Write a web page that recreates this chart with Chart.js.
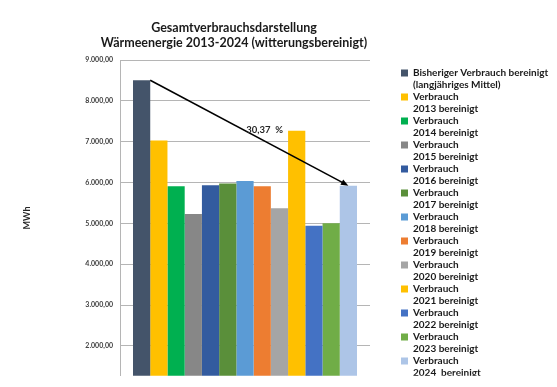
<!DOCTYPE html>
<html lang="de">
<head>
<meta charset="utf-8">
<title>Gesamtverbrauchsdarstellung Wärmeenergie</title>
<script src="https://cdn.jsdelivr.net/npm/chart.js@4/dist/chart.umd.min.js"></script>
<style>
    html, body { margin: 0; padding: 0; background: #fff; }
    #wrap { width: 557px; height: 387px; position: relative; }
</style>
</head>
<body>
<div id="wrap"><canvas id="waermeChart"></canvas></div>
<script>
// Daten (MWh)
const categories = [""];
const seriesLabels = [
    ["Bisheriger Verbrauch bereinigt", "(langjähriges Mittel)"],
    ["Verbrauch", "2013 bereinigt"],
    ["Verbrauch", "2014 bereinigt"],
    ["Verbrauch", "2015 bereinigt"],
    ["Verbrauch", "2016 bereinigt"],
    ["Verbrauch", "2017 bereinigt"],
    ["Verbrauch", "2018 bereinigt"],
    ["Verbrauch", "2019 bereinigt"],
    ["Verbrauch", "2020 bereinigt"],
    ["Verbrauch", "2021 bereinigt"],
    ["Verbrauch", "2022 bereinigt"],
    ["Verbrauch", "2023 bereinigt"],
    ["Verbrauch", "2024  bereinigt"]
];
const seriesValues = [8505, 7030, 5910, 5230, 5930, 5975, 6040, 5910, 5370, 7265, 4940, 5000, 5922];
const seriesColors = [
    "#44546A", "#FFC000", "#00B050", "#878787", "#335B9F", "#5A8F3A", "#5B9BD5",
    "#ED7D31", "#A5A5A5", "#FFC000", "#4472C4", "#70AD47", "#ADC5E7"
];
const yTicks = [2000, 3000, 4000, 5000, 6000, 7000, 8000, 9000];
const titleLines = ["Gesamtverbrauchsdarstellung", "Wärmeenergie 2013-2024 (witterungsbereinigt)"];
const yTitle = "MWh";
const arrowLabel = "30,37  %";

// Achsenbereich (unterer Teil ist im Bild abgeschnitten)
const yMin = 1267;
const yMax = 9000;
const legendLeft = 401;

const FONT = "Lato";

// Titel (zentriert über dem Diagramm)
const titlePlugin = {
    id: "titleText",
    afterDraw(chart) {
        const ctx = chart.ctx;
        ctx.save();
        ctx.font = "bold 12.5px " + FONT;
        ctx.fillStyle = "#1a1a1a";
        ctx.textAlign = "center";
        ctx.textBaseline = "middle";
        titleLines.forEach((line, i) => {
            ctx.fillText(line, 234, 28 + i * 15);
        });
        ctx.restore();
    }
};

// Pfeil vom Mittelwert zum letzten Jahr
const arrowPlugin = {
    id: "arrow",
    afterDatasetsDraw(chart) {
        const n = chart.data.datasets.length;
        const first = chart.getDatasetMeta(0).data[0];
        const last = chart.getDatasetMeta(n - 1).data[0];
        if (!first || !last) return;

        const x1 = first.x + first.width / 2;
        const y1 = first.y;
        const x2 = last.x;
        const y2 = last.y;
        const ang = Math.atan2(y2 - y1, x2 - x1);
        const head = 8;

        const ctx = chart.ctx;
        ctx.save();
        ctx.strokeStyle = "#000";
        ctx.fillStyle = "#000";
        ctx.lineWidth = 1.5;
        ctx.beginPath();
        ctx.moveTo(x1, y1);
        ctx.lineTo(x2 - Math.cos(ang) * head * 0.8, y2 - Math.sin(ang) * head * 0.8);
        ctx.stroke();

        ctx.beginPath();
        ctx.moveTo(x2, y2);
        ctx.lineTo(x2 - head * Math.cos(ang - 0.38), y2 - head * Math.sin(ang - 0.38));
        ctx.lineTo(x2 - head * Math.cos(ang + 0.38), y2 - head * Math.sin(ang + 0.38));
        ctx.closePath();
        ctx.fill();

        ctx.font = "bold 9.5px " + FONT;
        ctx.fillStyle = "#262626";
        ctx.textAlign = "left";
        ctx.textBaseline = "middle";
        ctx.fillText(arrowLabel, (x1 + x2) / 2 - 3, (y1 + y2) / 2 - 3);
        ctx.restore();
    }
};

const datasets = seriesValues.map((v, i) => ({
    label: seriesLabels[i],
    data: [v],
    backgroundColor: seriesColors[i],
    borderWidth: 0,
    yAxisID: "y"
}));

const chart = new Chart(document.getElementById("waermeChart"), {
    type: "bar",
    data: {
        labels: categories,
        datasets: datasets
    },
    options: {
        responsive: true,
        maintainAspectRatio: false,
        animation: false,
        layout: {
            padding: { top: 60, left: 0, right: 0, bottom: 0 }
        },
        datasets: {
            bar: {
                categoryPercentage: 0.896,
                barPercentage: 1
            }
        },
        plugins: {
            tooltip: { enabled: false },
            title: { display: false },
            legend: {
                position: "right",
                align: "start",
                fullSize: false,
                maxWidth: 156,
                title: {
                    display: true,
                    text: "",
                    font: { size: 0 },
                    padding: { top: 8, bottom: 0 }
                },
                labels: {
                    boxWidth: 7,
                    boxHeight: 7,
                    padding: 0,
                    color: "#1a1a1a",
                    font: { family: FONT, weight: "bold", size: 10, lineHeight: 1.2 }
                }
            }
        },
        scales: {
            x: {
                display: false
            },
            y: {
                position: "left",
                min: yMin,
                max: yMax,
                afterFit: s => { s.width = 120; },
                afterBuildTicks: s => { s.ticks = yTicks.map(v => ({ value: v })); },
                grid: {
                    color: "#b5b5b5",
                    lineWidth: 1,
                    drawTicks: false
                },
                border: { display: true, color: "#b5b5b5" },
                ticks: {
                    padding: 7,
                    color: "#404040",
                    font: { family: FONT, weight: "bold", size: 7 },
                    callback: v => Number(v).toLocaleString("de-DE", { minimumFractionDigits: 2, maximumFractionDigits: 2 })
                },
                title: {
                    display: true,
                    text: yTitle,
                    color: "#262626",
                    font: { family: FONT, weight: "bold", size: 9 },
                    padding: { top: 22, bottom: 0 }
                }
            },
            gap: {
                position: "right",
                display: true,
                afterFit: s => { s.width = 31; },
                grid: { display: false, drawTicks: false },
                border: { display: false },
                ticks: { display: false }
            }
        }
    },
    plugins: [titlePlugin, arrowPlugin]
});

// Legende an die Position im Original schieben
for (let i = 0; i < 3; i++) {
    const shift = Math.round(chart.legend.left - legendLeft);
    if (shift === 0) break;
    chart.options.layout.padding.right = Math.max(0, chart.options.layout.padding.right + shift);
    chart.update("none");
}
</script>
</body>
</html>
